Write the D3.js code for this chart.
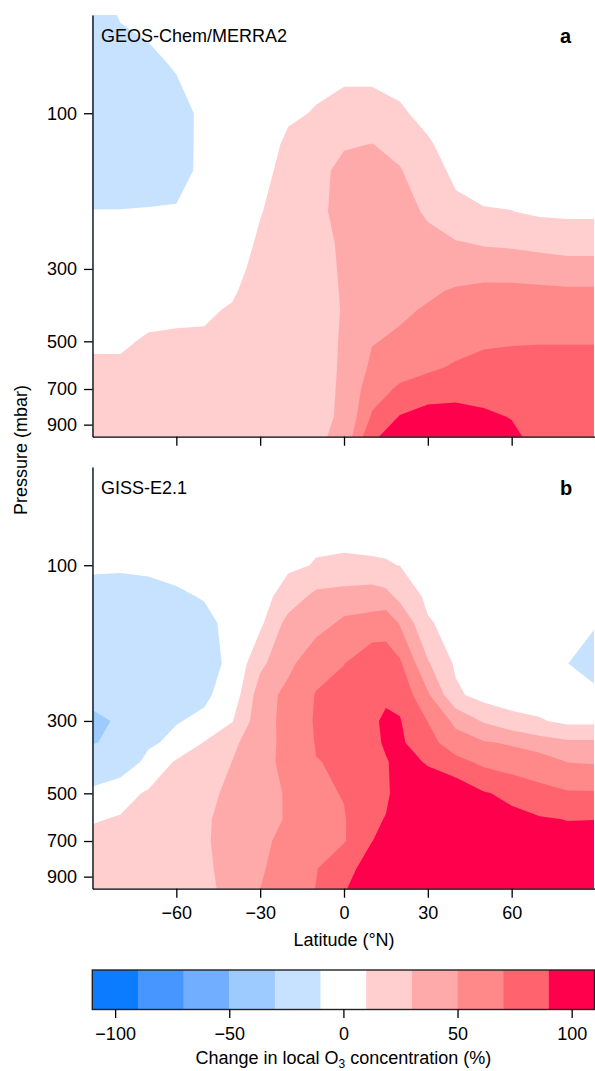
<!DOCTYPE html>
<html>
<head>
<meta charset="utf-8">
<script src="https://cdn.jsdelivr.net/npm/d3@7"></script>
<style>
  html, body { margin: 0; padding: 0; background: #fff; }
  svg { display: block; font-family: 'Liberation Sans', Arial, Helvetica, sans-serif; }
</style>
</head>
<body>
<script>
// pressure levels (mbar), top of the model domain down to the surface
const levels = [50, 70, 100, 125, 150, 200, 250, 300, 350, 400, 500, 600, 700, 850, 980]

// latitude columns of each panel
const latsA = [-90, -80, -70, -60, -50, -40, -30, -20, -10, 0, 10, 20, 30, 40, 50, 60, 70, 80, 90]
const latsB = [-90, -80, -70, -60, -50, -40, -30, -20, -10, 0, 10, 15, 20, 30, 40, 50, 60, 70, 80, 90]

// change in local O3 (%), one row per latitude, values follow `levels`
const geosChem = [
  [-17, -18, -18, -17, -16, -9.7, -5.4, -1.8, 1.2, 3.8, 8.1, 12, 14, 16, 17],
  [-9, -15, -18, -16.4, -15, -9.7, -5.4, -1.8, 1.2, 3.8, 8.1, 12, 14, 16, 17],
  [-6, -13, -16, -14.9, -14, -9.5, -4.5, -0.4, 3.1, 6.1, 11.5, 13, 15, 17, 18],
  [-3, -8.5, -15, -13.9, -13, -9.3, -3.7, 0.5, 4.1, 7.2, 12, 14, 16, 18, 19],
  [0, -4, -7, -7.6, -8, -6, -3, 0, 4.2, 7.8, 12, 14, 16, 18, 19],
  [2, 0, -2, -2.6, -3, -2, 0, 4, 8, 11.4, 14, 16, 18, 20, 21],
  [3, 2, 2, 3.1, 4, 9, 13, 16, 17.6, 19, 20, 21, 22, 23, 24],
  [4, 5, 8, 12.7, 16.5, 19, 21, 22, 22.5, 23, 24, 24, 25, 25, 25],
  [4, 6, 10.8, 15.9, 20, 24, 26, 27, 27, 27, 27, 27, 27, 27, 27],
  [4, 7, 13.3, 27.4, 39, 38, 32, 31, 30.7, 30.5, 30.8, 31, 31.3, 31.7, 34.5],
  [4, 7, 13.3, 30.7, 45, 46, 46, 46, 46.5, 47, 49, 54, 62, 72, 88],
  [3, 6, 11.2, 22.5, 31.7, 35.4, 39.2, 42.3, 44.9, 47.1, 52.9, 63, 72.7, 91, 96],
  [2, 4, 7.5, 11.1, 14, 28, 34, 42, 47.2, 51.7, 58, 67, 78.3, 99, 100],
  [1, 2, 4, 6.2, 8, 12.2, 31.8, 42, 51.8, 60.3, 64, 71.9, 80, 100.4, 100],
  [0, 1, 3, 4.7, 6, 10.6, 28, 43.3, 54.1, 63.5, 67, 76.4, 82, 93.6, 92],
  [0, 1, 2, 3.7, 5, 10.2, 27, 40.7, 55.3, 68, 69.5, 72.3, 80, 89, 95],
  [0, 1, 2, 3.1, 4, 8, 19.2, 49.2, 50.3, 51.2, 69, 76.3, 80, 82, 82],
  [0, 1, 2, 3.1, 4, 8, 16.4, 43.4, 51.5, 58.5, 69, 76.3, 80, 82, 83],
  [0, 1, 2, 3.1, 4, 8, 16.4, 43.4, 51.5, 58.5, 69, 76.3, 80, 82, 83]
]

const giss = [
  [-3, -5, -8.8, -12.9, -16.3, -22.5, -27.3, -32, -30.5, -22.3, -6.6, 8.75, 14, 16, 17],
  [-3, -5, -9, -13.1, -16.5, -22, -26.5, -28.9, -28, -24, 4, 11.3, 14, 16, 17],
  [-2, -4, -8, -13.6, -18.1, -20, -20, -17, -13, -4.4, 12.1, 14, 16, 18, 19],
  [-1, -3, -6, -12.1, -17.1, -19, -15, -11, -5.5, 12, 15, 16, 18, 19, 20],
  [0, -2, -4, -9.2, -13.5, -15, -13, -6.6, 11, 18, 24, 27, 27, 25, 22],
  [0, -1, -3, -4.7, -6, -7, -2, 9, 25.7, 30.2, 35, 38, 40, 40, 40],
  [1, 0, -1, 2.9, 6, 25.6, 40, 42, 43, 44, 45, 46, 47, 48, 50],
  [2, 3, 7, 18.5, 36.5, 45, 55.8, 56, 55, 55, 51.3, 51, 54, 58, 60],
  [3, 5, 10.9, 35.7, 42, 63.9, 71, 72, 71, 69.6, 66, 65, 65, 69, 70.5],
  [3, 6, 11.3, 39.6, 53.5, 69.5, 77, 78, 72, 71.5, 71, 68.5, 68.5, 86, 89],
  [3, 6, 10.9, 42.2, 55.7, 85, 86, 86, 86, 86, 87, 88, 89.8, 95, 98],
  [3, 5, 10.75, 37.1, 62.6, 78.6, 86, 94, 92, 89, 88, 90.5, 93, 97, 99],
  [2, 4, 9.8, 25, 48.1, 73, 85, 91.1, 93, 94, 95, 96, 97, 98, 99],
  [1, 2, 4, 6, 11.7, 32.1, 52.8, 69.5, 77.8, 89, 96, 97, 98, 99, 100],
  [0, 1, 2, 3, 4, 7, 13.6, 45.2, 58.1, 76, 104, 105, 105, 105, 105],
  [0, 0, 1, 1.5, 2, 2.5, 2.8, 28, 52, 65.5, 91.5, 97, 99, 100, 100],
  [0, 0, 0, 1, 1, 0, 0, 16.4, 48, 59.5, 85.8, 94.6, 97, 99, 99],
  [0, 0, 0, 0, 0, 0, 0, 11.8, 38.8, 59.9, 75, 91.9, 96, 98, 98],
  [0, 0, -2, -4, -6, -9.9, -3, 5.4, 33.5, 49.5, 72, 89.5, 95.2, 97, 97],
  [0, -1, -4, -7, -9.5, -13.5, -8.25, 5.4, 33.5, 47.9, 71.8, 89.8, 96, 97, 97]
]

const thresholds = [-90, -70, -50, -30, -10, 10, 30, 50, 70, 90]
const bandColors = ['#0b7bff', '#4796ff', '#71aeff', '#9dcbff', '#c7e2ff', '#ffffff',
  '#ffcfcf', '#ffaaaa', '#ff8888', '#ff636e', '#ff004c']
const pressureTicks = [100, 300, 500, 700, 900]
const latTicks = [-60, -30, 0, 30, 60]
const cbarTicks = [-100, -50, 0, 50, 100]

const width = 595, height = 1071
const plotH = 421.7

const svg = d3.select('body').append('svg')
  .attr('width', width)
  .attr('height', height)

const x = d3.scaleLinear([-90, 90], [92.5, 595.5])
const color = d3.scaleThreshold().domain(thresholds).range(bandColors)

let styleAxis = g => {
  g.attr('font-size', 18).attr('font-family', null)
  g.selectAll('.domain, .tick line').attr('stroke', '#000').attr('stroke-width', 1.3)
  g.selectAll('text').attr('fill', '#000')
}

const panels = [
  { label: 'GEOS-Chem/MERRA2', tag: 'a', lats: latsA, cols: geosChem, top: 15, xLabels: false },
  { label: 'GISS-E2.1', tag: 'b', lats: latsB, cols: giss, top: 467, xLabels: true }
]

panels.forEach((p, k) => {
  const y = d3.scaleLog([50, 980], [p.top, p.top + plotH])
  const nx = p.lats.length, ny = levels.length

  const grid = []
  for (let j = 0; j < ny; j++) {
    for (let i = 0; i < nx; i++) grid.push(p.cols[i][j])
  }
  const bands = d3.contours().size([nx, ny]).thresholds(thresholds)(grid)

  // grid coordinates -> latitude / pressure (sample i sits at i + 0.5)
  let latAt = c => {
    const t = Math.max(0, Math.min(nx - 1, c - 0.5))
    const i = Math.min(nx - 2, Math.floor(t))
    return p.lats[i] + (t - i) * (p.lats[i + 1] - p.lats[i])
  }
  let presAt = c => {
    const t = Math.max(0, Math.min(ny - 1, c - 0.5))
    const j = Math.min(ny - 2, Math.floor(t))
    const a = Math.log(levels[j]), b = Math.log(levels[j + 1])
    return Math.exp(a + (t - j) * (b - a))
  }
  const path = d3.geoPath(d3.geoTransform({
    point (gx, gy) { this.stream.point(x(latAt(gx)), y(presAt(gy))) }
  }))

  svg.append('clipPath').attr('id', `clip${k}`)
    .append('rect')
    .attr('x', x(-90)).attr('y', p.top)
    .attr('width', 594 - x(-90)).attr('height', plotH)

  svg.append('g')
    .attr('clip-path', `url(#clip${k})`)
    .selectAll('path').data(bands).join('path')
    .attr('d', path)
    .attr('fill', d => color(d.value))

  svg.append('g')
    .attr('transform', `translate(${x(-90)},0)`)
    .call(d3.axisLeft(y).tickValues(pressureTicks).tickFormat(d3.format('d'))
      .tickSize(8.5).tickSizeOuter(0).tickPadding(7))
    .call(styleAxis)

  svg.append('g')
    .attr('transform', `translate(0,${p.top + plotH})`)
    .call(d3.axisBottom(x).tickValues(latTicks)
      .tickFormat(p.xLabels ? d3.format('d') : () => '')
      .tickSize(9).tickSizeOuter(0).tickPadding(9))
    .call(styleAxis)

  svg.append('text')
    .attr('x', 101).attr('y', p.top + 26.5)
    .attr('font-size', 18)
    .text(p.label)

  svg.append('text')
    .attr('x', 560).attr('y', p.top + 28)
    .attr('font-size', 20).attr('font-weight', 'bold')
    .text(p.tag)
})

svg.append('text')
  .attr('transform', 'translate(26.7,450) rotate(-90)')
  .attr('text-anchor', 'middle')
  .attr('font-size', 18)
  .text('Pressure (mbar)')

svg.append('text')
  .attr('x', x(0)).attr('y', 946)
  .attr('text-anchor', 'middle')
  .attr('font-size', 18)
  .text('Latitude (°N)')

// colour bar
const cx = d3.scaleLinear([-110, 110], [92.3, 594.5])
const edges = [-110, ...thresholds, 110]
const cbTop = 970, cbH = 39.5

svg.append('g')
  .selectAll('rect').data(bandColors).join('rect')
  .attr('x', (d, i) => cx(edges[i]))
  .attr('width', (d, i) => cx(edges[i + 1]) - cx(edges[i]) + 0.3)
  .attr('y', cbTop).attr('height', cbH)
  .attr('fill', d => d)

svg.append('rect')
  .attr('x', cx(-110)).attr('y', cbTop)
  .attr('width', cx(110) - cx(-110)).attr('height', cbH)
  .attr('fill', 'none').attr('stroke', '#222').attr('stroke-width', 1.4)

svg.append('g')
  .attr('transform', `translate(0,${cbTop + cbH})`)
  .call(d3.axisBottom(cx).tickValues(cbarTicks).tickFormat(d3.format('d'))
    .tickSize(8.5).tickSizeOuter(0).tickPadding(9))
  .call(styleAxis)
  .call(g => g.select('.domain').remove())

const title = svg.append('text')
  .attr('x', cx(0)).attr('y', 1064)
  .attr('text-anchor', 'middle')
  .attr('font-size', 18)
title.append('tspan').text('Change in local O')
title.append('tspan').attr('font-size', 12).attr('dy', 4).text('3')
title.append('tspan').attr('dy', -4).text(' concentration (%)')
</script>
</body>
</html>
